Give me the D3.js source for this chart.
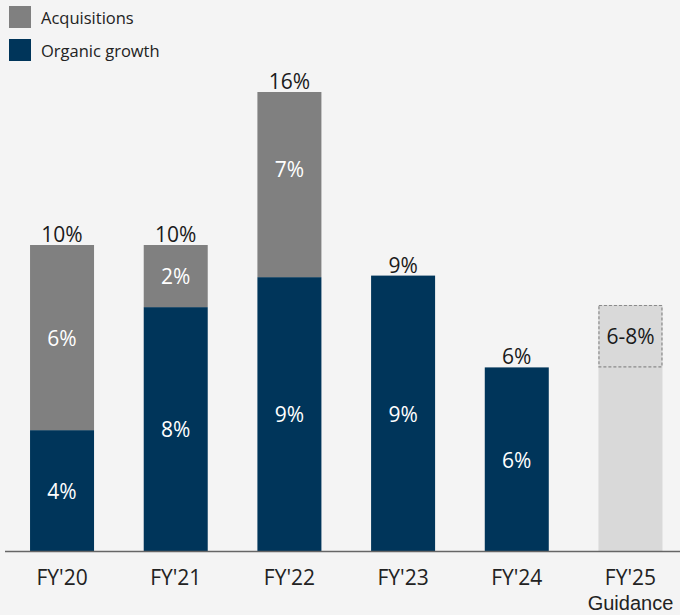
<!DOCTYPE html>
<html><head><meta charset="utf-8">
<script src="https://cdn.jsdelivr.net/npm/d3@7"></script>
<style>
html,body{margin:0;padding:0;background:#f4f4f4;}
svg{display:block;font-family:"Open Sans",sans-serif;}
</style></head>
<body>
<svg id="c" width="680" height="615"></svg>
<script>
const categories = ["FY'20","FY'21","FY'22","FY'23","FY'24","FY'25"];
const subLabels = ["","","","","","Guidance"];
const organic = [3.95, 7.97, 8.95, 9.0, 6.0, 0];
const acquisitions = [6.05, 2.03, 6.05, 0, 0, 0];
const organicLabels = ["4%","8%","9%","9%","6%",""];
const acqLabels = ["6%","2%","7%","","",""];
const acqLabelValues = [6, 2, 7, 0, 0, 0];
const totalLabels = ["10%","10%","16%","9%","6%",""];
const guidanceLow = 6.0, guidanceHigh = 8.04;
const guidanceLabel = "6-8%";
const legendItems = ["Acquisitions","Organic growth"];

const colAcq = "#808080", colOrg = "#00355a", colGuid = "#d9d9d9";
const svg = d3.select("#c");
const baseY = 551;
const x = d3.scaleBand().domain(categories).range([5.2, 687.3]).paddingInner(0.437).paddingOuter(0.2185);
const y = d3.scaleLinear().domain([0, 10]).range([baseY, baseY - 306]);
const fs = 21;

// legend
const leg = svg.append("g");
[colAcq, colOrg].forEach((c, i) => {
  leg.append("rect").attr("x", 9).attr("y", 6 + i * 33).attr("width", 22).attr("height", 22).attr("fill", c);
  leg.append("text").attr("x", 41).attr("y", 18 + i * 33).attr("dy", "0.35em")
    .attr("font-size", 16.5).attr("fill", "#222").text(legendItems[i]);
});

const g = svg.append("g");
categories.forEach((cat, i) => {
  const bx = x(cat), bw = x.bandwidth(), cx = bx + bw / 2;
  if (i === 5) {
    g.append("rect").attr("x", bx).attr("y", y(guidanceHigh)).attr("width", bw)
      .attr("height", y(0) - y(guidanceHigh)).attr("fill", colGuid);
    g.append("rect").attr("x", bx + 0.5).attr("y", y(guidanceHigh) + 0.5).attr("width", bw - 1)
      .attr("height", y(guidanceLow) - y(guidanceHigh) - 1).attr("fill", "none")
      .attr("stroke", "#8a8a8a").attr("stroke-width", 1.2).attr("stroke-dasharray", "3,2");
    g.append("text").attr("x", cx).attr("y", (y(guidanceHigh) + y(guidanceLow)) / 2).attr("dy", "0.35em")
      .attr("text-anchor", "middle").attr("font-size", fs).attr("fill", "#1a1a1a").text(guidanceLabel);
    return;
  }
  const o = organic[i], a = acquisitions[i];
  g.append("rect").attr("x", bx).attr("y", y(o)).attr("width", bw).attr("height", y(0) - y(o)).attr("fill", colOrg);
  g.append("text").attr("x", cx).attr("y", (y(0) + y(o)) / 2).attr("dy", "0.4em")
    .attr("text-anchor", "middle").attr("font-size", fs).attr("fill", "#fff").text(organicLabels[i]);
  if (a > 0) {
    g.append("rect").attr("x", bx).attr("y", y(o + a)).attr("width", bw).attr("height", y(o) - y(o + a)).attr("fill", colAcq);
    g.append("text").attr("x", cx).attr("y", y(o + acqLabelValues[i] / 2)).attr("dy", "0.35em")
      .attr("text-anchor", "middle").attr("font-size", fs).attr("fill", "#fff").text(acqLabels[i]);
  }
  g.append("text").attr("x", cx).attr("y", y(o + a) - 3)
    .attr("text-anchor", "middle").attr("font-size", fs).attr("fill", "#1a1a1a").text(totalLabels[i]);
});

// axis
const ax = svg.append("g").attr("transform", `translate(0,${baseY})`)
  .call(d3.axisBottom(x).tickSize(0).tickPadding(19));
ax.select(".domain").attr("d", "M5,0.5H680").attr("stroke", "#666").attr("stroke-width", 1.5);
ax.selectAll(".tick text").attr("font-size", fs).attr("fill", "#222").attr("font-family", "'Open Sans',sans-serif");
ax.selectAll(".tick").each(function(d, i) {
  if (subLabels[i]) {
    d3.select(this).append("text").attr("y", 45).attr("dy", "0.71em").attr("text-anchor", "middle")
      .attr("font-size", 20).attr("fill", "#222").text(subLabels[i]);
  }
});
</script>
</body></html>
